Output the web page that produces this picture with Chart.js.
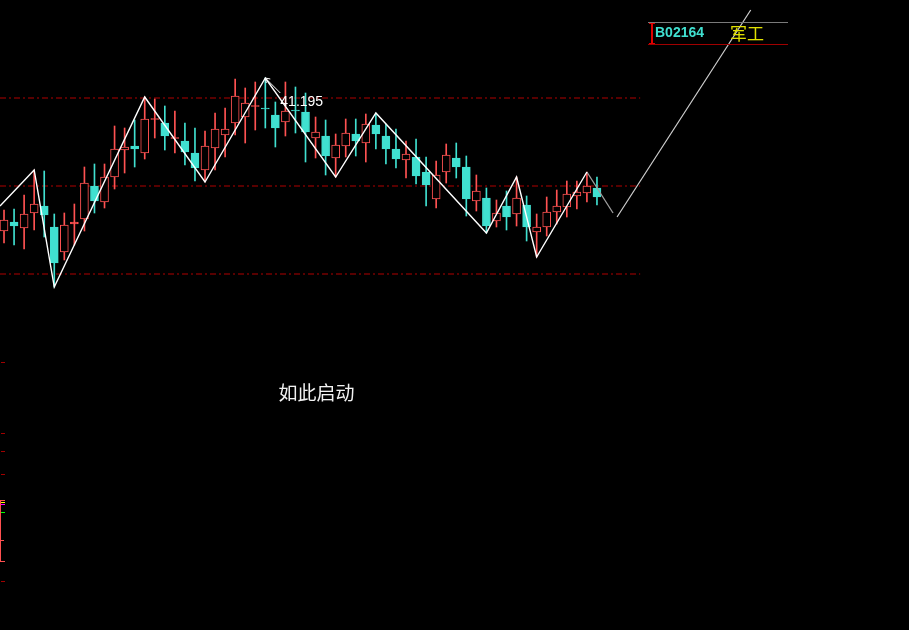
<!DOCTYPE html>
<html lang="zh">
<head>
  <meta charset="UTF-8">
  <title>B02164 军工</title>
  <script src="https://cdn.jsdelivr.net/npm/chart.js"></script>
  <style>
    html, body { margin: 0; padding: 0; background: #000; overflow: hidden; }
    #wrap { width: 909px; height: 630px; }
  </style>
</head>
<body>
  <div id="wrap"><canvas id="chart" width="909" height="630"></canvas></div>

  <script>
    // K线数据 (按K线序号 0..59)
    const opens  = [38.135, 38.315, 38.195, 38.495, 38.635, 38.215, 37.715, 38.275, 38.375, 39.035,
                    38.715, 39.215, 39.755, 39.835, 39.695, 40.365, 40.295, 39.985, 39.935, 39.695,
                    39.355, 39.795, 40.055, 40.295, 40.415, 40.625, 40.595, 40.455, 40.315, 40.555,
                    40.515, 39.995, 40.035, 39.595, 39.835, 40.075, 39.895, 40.255, 40.035, 39.775,
                    39.555, 39.615, 39.315, 38.775, 39.315, 39.595, 39.415, 38.735, 38.795, 38.335,
                    38.635, 38.475, 38.655, 38.115, 38.215, 38.515, 38.615, 38.835, 38.895, 38.995];
    const highs  = [38.555, 38.575, 38.855, 39.355, 39.335, 38.475, 38.495, 38.675, 39.415, 39.475,
                    39.475, 40.235, 40.195, 40.355, 40.815, 40.775, 40.635, 40.535, 40.295, 40.195,
                    40.135, 40.495, 40.595, 41.175, 40.995, 41.115, 41.195, 40.715, 41.115, 41.015,
                    40.895, 40.415, 40.355, 40.075, 40.375, 40.375, 40.475, 40.495, 40.275, 40.175,
                    39.935, 39.975, 39.615, 39.535, 39.875, 39.895, 39.635, 39.255, 38.995, 38.755,
                    38.935, 39.215, 38.835, 38.475, 38.815, 38.955, 39.135, 39.135, 39.315, 39.215];
    const lows   = [37.895, 37.855, 37.775, 38.155, 38.015, 37.015, 37.555, 37.855, 38.135, 38.495,
                    38.595, 38.975, 39.295, 39.415, 39.575, 39.995, 39.755, 39.695, 39.455, 39.135,
                    39.115, 39.355, 39.615, 40.055, 39.895, 40.155, 40.195, 39.815, 40.035, 40.095,
                    39.515, 39.595, 39.255, 39.215, 39.615, 39.635, 39.515, 39.775, 39.475, 39.395,
                    39.195, 39.075, 38.635, 38.595, 39.095, 39.195, 38.435, 38.535, 38.095, 38.215,
                    38.155, 38.235, 37.935, 37.615, 38.035, 38.275, 38.415, 38.575, 38.715, 38.655];
    const closes = [38.355, 38.235, 38.475, 38.675, 38.455, 37.495, 38.255, 38.315, 39.095, 38.735,
                    39.215, 39.775, 39.815, 39.775, 40.375, 40.385, 40.035, 40.005, 39.715, 39.395,
                    39.835, 40.175, 40.175, 40.835, 40.695, 40.645, 40.575, 40.195, 40.535, 40.535,
                    40.115, 40.115, 39.635, 39.855, 40.095, 39.935, 40.275, 40.075, 39.775, 39.575,
                    39.675, 39.235, 39.055, 39.255, 39.655, 39.415, 38.775, 38.935, 38.235, 38.495,
                    38.415, 38.795, 38.215, 38.215, 38.515, 38.635, 38.875, 38.915, 39.035, 38.815];

    // 之字线 (波峰/波谷)
    const zigX = [-0.4, 3, 5, 14, 20, 26, 33, 37, 48, 51, 53, 58];
    const zigY = [38.635, 39.355, 37.015, 40.815, 39.115, 41.195, 39.215, 40.495, 38.095, 39.215, 37.615, 39.315];
    const tailX = [58, 60.6];
    const tailY = [39.315, 38.495];
    const riseX = [61, 74.3];
    const riseY = [38.415, 42.555];

    // 水平虚线
    const levels = [40.795, 39.035, 37.275];
    const levelEnd = 63.3;

    const peakIndex = 26;
    const peakText = '41.195';
    const caption = '如此启动';
    const captionX = 31.1;
    const captionY = 34.895;
    const stockCode = 'B02164';
    const sectorName = '军工';

    const RED = '#ff5252';
    const CYAN = '#40e0d0';

    const idx = opens.map((_, i) => i);
    const isUp = idx.map(i => closes[i] >= opens[i]);

    const wickData = idx.map(i => ({ x: i, y: [lows[i], highs[i]] }));
    const bodyData = idx.map(i => ({ x: i, y: [opens[i], closes[i]] }));
    const pts = (xs, ys) => xs.map((x, i) => ({ x, y: ys[i] }));

    const levelSets = levels.map(v => ({
      type: 'line',
      data: [{ x: -0.4, y: v }, { x: levelEnd, y: v }],
      borderColor: '#b00000',
      borderWidth: 1,
      borderDash: [6, 3, 2, 3],
      pointRadius: 0,
      order: 5
    }));

    const overlay = {
      id: 'overlay',
      afterDatasetsDraw(chart) {
        const { ctx, scales: { x, y } } = chart;
        ctx.save();

        // 峰值箭头和价格
        const px = x.getPixelForValue(peakIndex);
        const py = y.getPixelForValue(highs[peakIndex]);
        ctx.strokeStyle = '#ffffff';
        ctx.lineWidth = 1;
        ctx.beginPath();
        ctx.moveTo(px, py);
        ctx.lineTo(px + 15, py + 15);
        ctx.moveTo(px, py);
        ctx.lineTo(px + 1, py + 5);
        ctx.moveTo(px, py);
        ctx.lineTo(px + 5, py + 1);
        ctx.stroke();
        ctx.fillStyle = '#ffffff';
        ctx.font = '14px "Liberation Sans", Arial, sans-serif';
        ctx.textBaseline = 'top';
        ctx.textAlign = 'left';
        ctx.fillText(peakText, px + 15, py + 17);

        // 说明文字
        ctx.font = '19px "Noto Sans CJK SC", sans-serif';
        ctx.textAlign = 'center';
        ctx.textBaseline = 'middle';
        ctx.fillStyle = '#f2f2f2';
        ctx.fillText(caption, x.getPixelForValue(captionX), y.getPixelForValue(captionY));

        // 右上角代码框
        ctx.strokeStyle = '#7a7a7a';
        ctx.beginPath();
        ctx.moveTo(648, 22.5);
        ctx.lineTo(788, 22.5);
        ctx.stroke();
        ctx.strokeStyle = '#a00000';
        ctx.beginPath();
        ctx.moveTo(648, 44.5);
        ctx.lineTo(788, 44.5);
        ctx.stroke();
        ctx.fillStyle = '#e00000';
        ctx.fillRect(651, 23, 2, 21);
        ctx.fillRect(649, 23, 6, 1);
        ctx.fillRect(649, 43, 6, 1);

        ctx.textAlign = 'left';
        ctx.font = 'bold 14px "Liberation Sans", Arial, sans-serif';
        ctx.fillStyle = CYAN;
        ctx.fillText(stockCode, 655, 33);
        ctx.font = '17px "Noto Sans CJK SC", sans-serif';
        ctx.fillStyle = '#e0e000';
        ctx.fillText(sectorName, 730, 34);

        // 左下角残留刻度
        ctx.fillStyle = '#a00000';
        [362, 433, 451, 474, 581].forEach(t => ctx.fillRect(1, t, 4, 1));
        ctx.fillStyle = '#ff5050';
        ctx.fillRect(0, 500, 1, 62);
        ctx.fillRect(0, 500, 5, 1);
        ctx.fillRect(0, 540, 4, 1);
        ctx.fillRect(0, 561, 5, 1);
        ctx.fillStyle = '#ffff00';
        ctx.fillRect(1, 502, 4, 1);
        ctx.fillStyle = '#ff00ff';
        ctx.fillRect(1, 504, 4, 1);
        ctx.fillStyle = '#00ff00';
        ctx.fillRect(1, 512, 4, 1);

        ctx.restore();
      }
    };

    new Chart(document.getElementById('chart'), {
      type: 'bar',
      data: {
        datasets: [
          {
            type: 'line',
            data: pts(zigX, zigY),
            borderColor: '#ffffff',
            borderWidth: 1.4,
            pointRadius: 0,
            tension: 0,
            order: 0
          },
          {
            type: 'line',
            data: pts(tailX, tailY),
            borderColor: '#a0a0a0',
            borderWidth: 1.3,
            pointRadius: 0,
            order: 0
          },
          {
            type: 'line',
            data: pts(riseX, riseY),
            borderColor: '#d0d0d0',
            borderWidth: 1.2,
            pointRadius: 0,
            order: 0
          },
          {
            data: bodyData,
            grouped: false,
            barThickness: 8,
            minBarLength: 1,
            borderWidth: 1,
            borderSkipped: false,
            borderColor: idx.map(i => isUp[i] ? RED : CYAN),
            backgroundColor: idx.map(i => isUp[i] ? (closes[i] - opens[i] > 0.05 ? '#000000' : RED) : CYAN),
            order: 1
          },
          {
            data: wickData,
            grouped: false,
            barThickness: 1,
            borderWidth: 0,
            backgroundColor: idx.map(i => isUp[i] ? RED : CYAN),
            order: 2
          },
          ...levelSets
        ]
      },
      options: {
        responsive: false,
        animation: false,
        layout: { padding: 0 },
        plugins: {
          legend: { display: false },
          tooltip: { enabled: false }
        },
        scales: {
          x: { type: 'linear', min: -0.4, max: 90.05, offset: false, display: false },
          y: { min: 30.155, max: 42.755, display: false }
        }
      },
      plugins: [overlay]
    });
  </script>
</body>
</html>
